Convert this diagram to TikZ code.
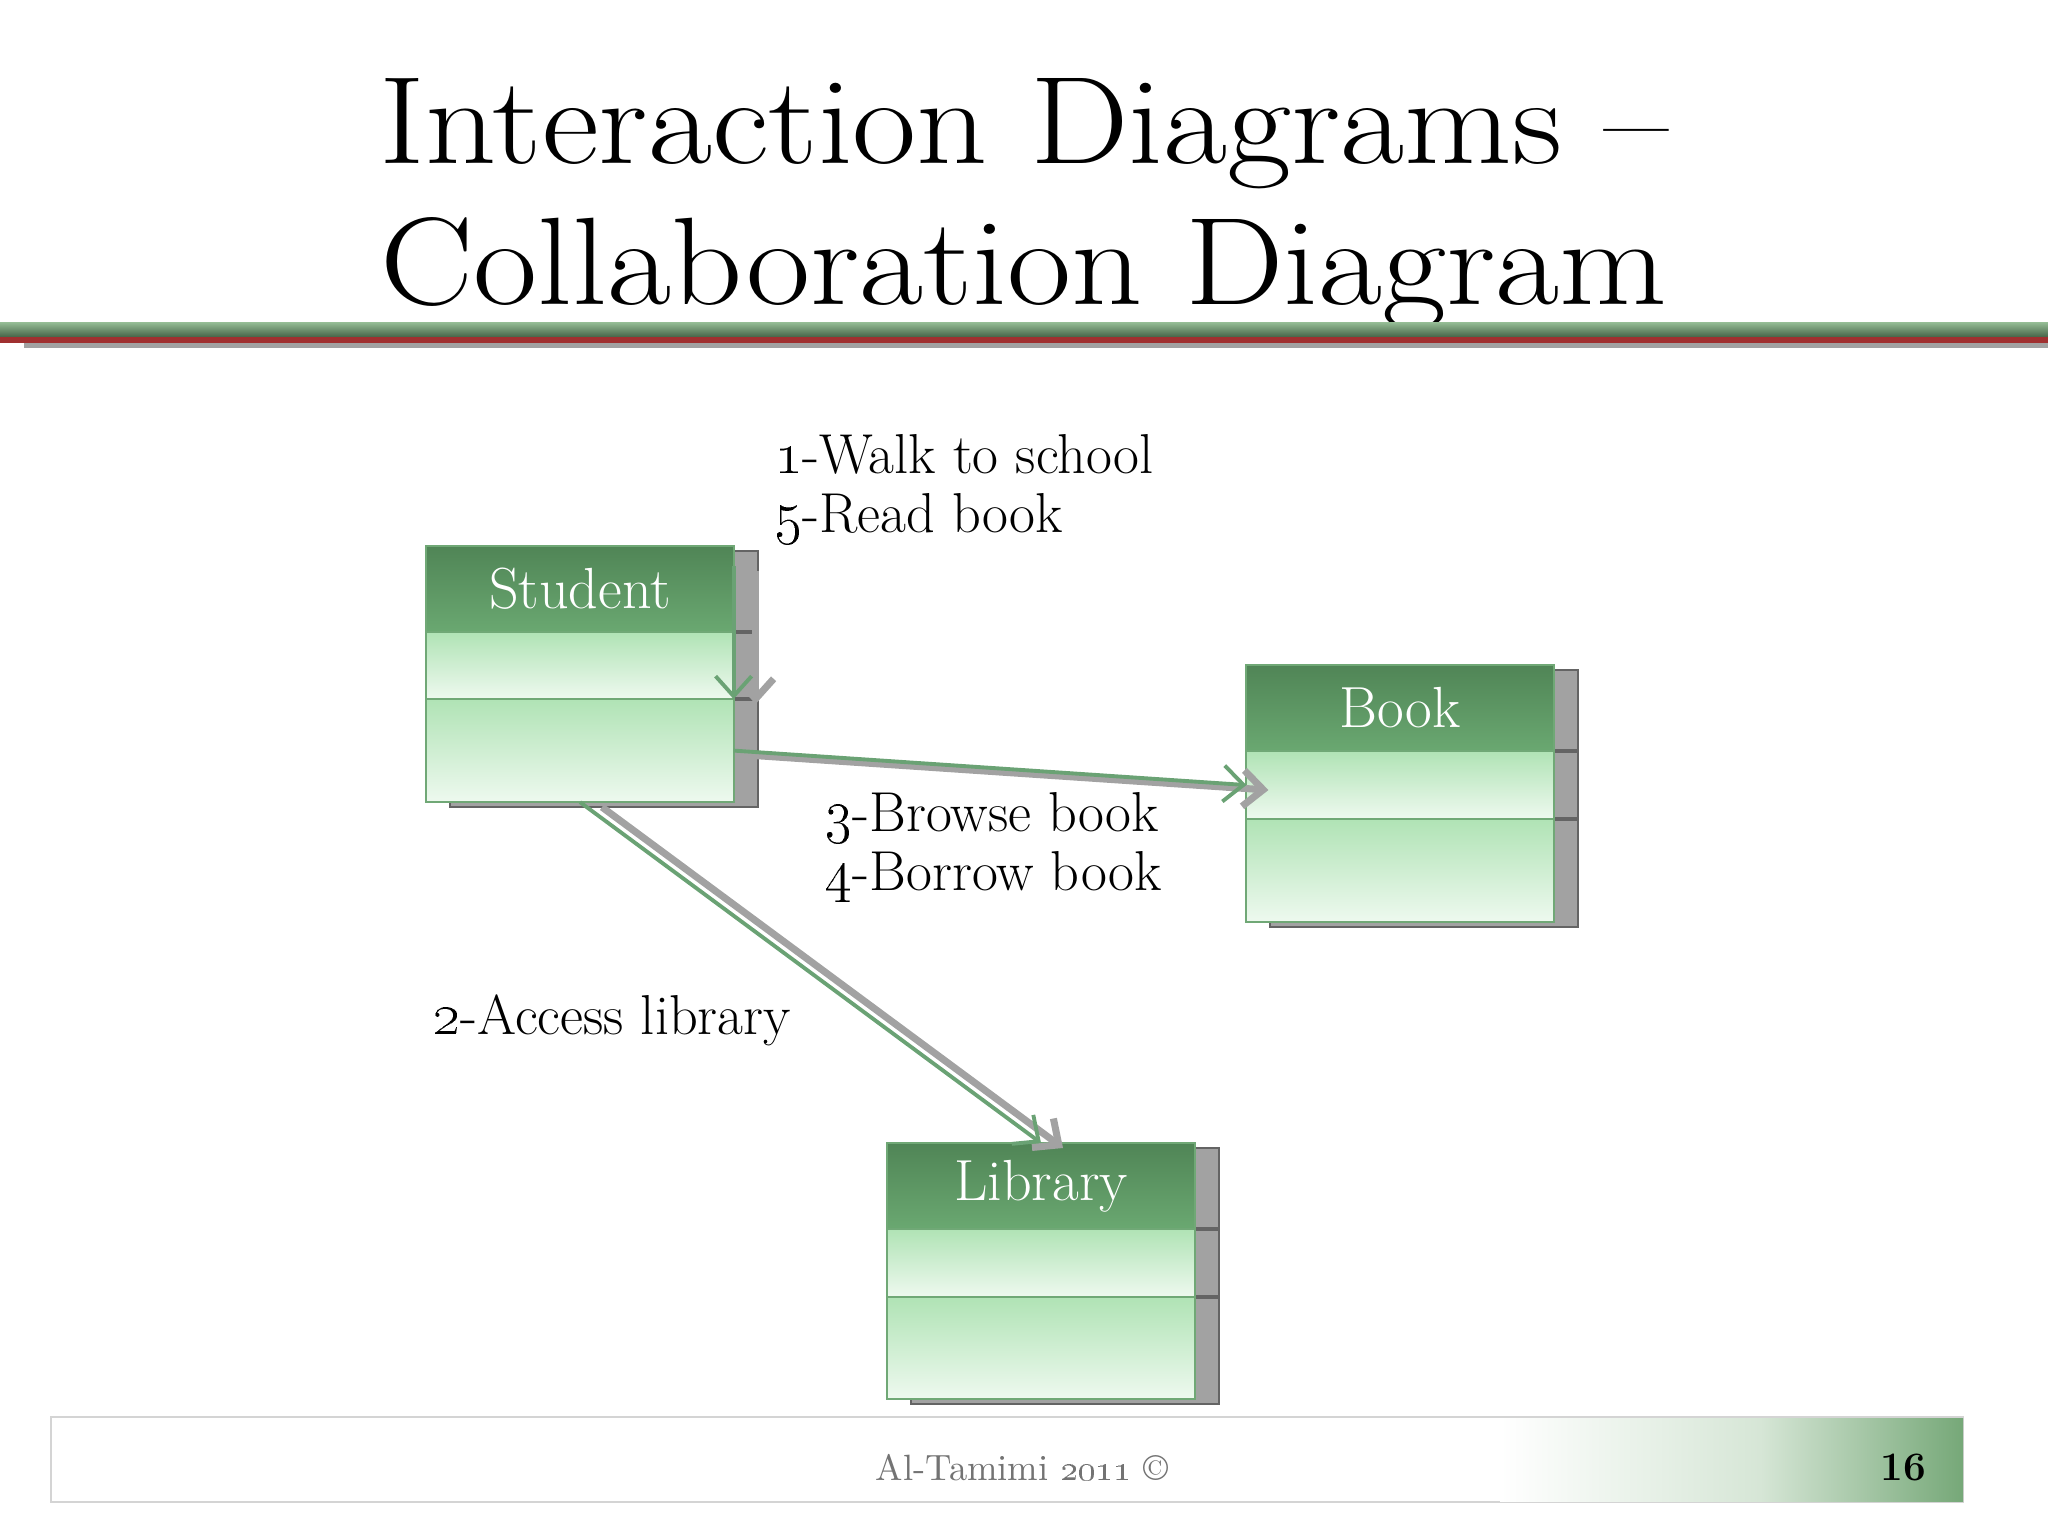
\documentclass[tikz,border=0pt]{standalone}
\usepackage{tikz}
\usetikzlibrary{positioning, arrows.meta, backgrounds}

\definecolor{headtop}{RGB}{80,133,86}
\definecolor{headbot}{RGB}{106,168,113}
\definecolor{comptop}{RGB}{176,227,181}
\definecolor{compbot}{RGB}{238,249,239}
\definecolor{boxedge}{RGB}{112,168,118}
\definecolor{msggreen}{RGB}{106,162,116}
\definecolor{shadowgrey}{RGB}{162,162,162}
\definecolor{shadowedge}{RGB}{100,100,100}
\definecolor{rulegreen}{RGB}{70,100,72}
\definecolor{rulelight}{RGB}{150,190,150}
\definecolor{rulered}{RGB}{160,48,48}
\definecolor{footgreen}{RGB}{118,168,120}
\definecolor{footmid}{RGB}{214,230,214}
\definecolor{footline}{RGB}{212,212,212}
\definecolor{foottext}{RGB}{115,115,115}

\begin{document}
\begin{tikzpicture}[x=0.01cm, y=-0.01cm, >={Straight Barb[length=0.2cm, width=0.36cm]},
    every node/.style={outer sep=0pt},
    titleline/.style={anchor=base, xscale=1.12, transform shape, font=\fontsize{35.4}{40}\selectfont},
    classhead/.style={rectangle, draw=boxedge, line width=0.6pt, top color=headtop, bottom color=headbot,
        minimum width=3.07cm, minimum height=0.86cm, text=white, font=\fontsize{16.5}{18}\selectfont},
    classpart/.style={rectangle, draw=boxedge, line width=0.6pt, top color=comptop, bottom color=compbot,
        minimum width=3.07cm},
    msg/.style={draw=msggreen, line width=1.1pt, ->},
    msgshadow/.style={draw=shadowgrey, line width=2pt, ->, transform canvas={xshift=0.22cm, yshift=-0.05cm}},
    msglabel/.style={inner sep=0pt, font=\fontsize{16}{17}\selectfont, align=left}]
    \useasboundingbox (0,0) rectangle (2048,1536);

    % title
    \node (title1) [titleline] at (1024,163) {Interaction Diagrams --};
    \node (title2) [titleline] at (1024,304) {Collaboration Diagram};
    \shade[top color=rulelight, bottom color=rulegreen] (0,322) rectangle (2048,337);
    \fill[rulered] (0,337) rectangle (2048,343);
    \fill[shadowgrey] (24,343) rectangle (2048,348);

    % classes
    \node (stuhead) [classhead] at (580,589) {Student};
    \node (stuattr) [classpart, minimum height=0.67cm, below=0pt of stuhead] {};
    \node (stuops) [classpart, minimum height=1.03cm, below=0pt of stuattr] {};

    \node (bookhead) [classhead] at (1400,708) {Book};
    \node (bookattr) [classpart, minimum height=0.68cm, below=0pt of bookhead] {};
    \node (bookops) [classpart, minimum height=1.03cm, below=0pt of bookattr] {};

    \node (libhead) [classhead] at (1041,1186) {Library};
    \node (libattr) [classpart, minimum height=0.68cm, below=0pt of libhead] {};
    \node (libops) [classpart, minimum height=1.02cm, below=0pt of libattr] {};

    \begin{scope}[on background layer]
        \foreach \cls in {stu, book, lib} {
            \draw[shadowedge, fill=shadowgrey, line width=0.6pt] ([shift={(24,5)}]\cls head.north west) rectangle ([shift={(24,5)}]\cls ops.south east);
            \draw[shadowedge, line width=0.9pt] (\cls head.south east) -- ++(24,0);
            \draw[shadowedge, line width=0.9pt] (\cls attr.south east) -- ++(24,0);
        }
    \end{scope}

    % messages
    \draw[msgshadow] ([yshift=-0.2cm]stuhead.north east) -- (stuattr.south east);
    \draw[msg] ([yshift=-0.2cm]stuhead.north east) -- (stuattr.south east);
    \draw[msgshadow] (stuops.east) -- (bookattr.west);
    \draw[msg] (stuops.east) -- (bookattr.west);
    \draw[msgshadow] (stuops.south) -- (libhead.north);
    \draw[msg] (stuops.south) -- (libhead.north);

    \node (walk) [msglabel, anchor=north west] at (774,434) {\oldstylenums{1}-Walk to school\\\oldstylenums{5}-Read book};
    \node (browse) [msglabel, anchor=north west] at (824,792) {\oldstylenums{3}-Browse book\\\oldstylenums{4}-Borrow book};
    \node (access) [msglabel, anchor=base west] at (432,1034) {\oldstylenums{2}-Access library};

    % footer
    \draw[footline, line width=0.8pt, fill=white] (51,1417) rectangle (1963,1502);
    \shade[left color=white, right color=footmid] (1500,1418) rectangle (1760,1501);
    \shade[left color=footmid, right color=footgreen] (1760,1418) rectangle (1963,1501);
    \node (author) [anchor=base, text=foottext, font=\fontsize{10.4}{12}\selectfont] at (1022,1480) {Al-Tamimi \oldstylenums{2011} \textcopyright};
    \node (page) [anchor=base, font=\fontsize{11.5}{13}\selectfont\bfseries] at (1903,1480) {16};
\end{tikzpicture}
\end{document}
